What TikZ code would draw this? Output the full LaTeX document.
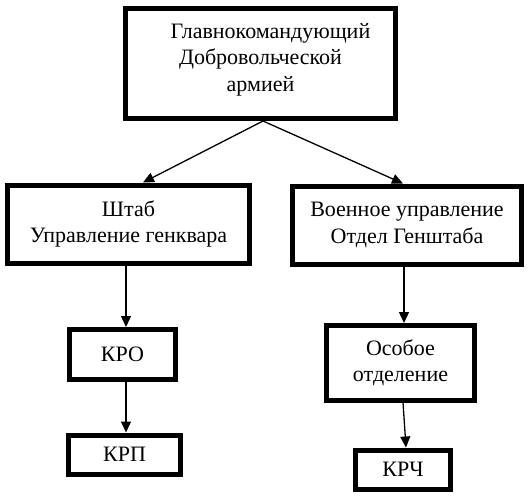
\documentclass[tikz,border=0pt]{standalone}
\usepackage{fontspec}
\newfontfamily\boxfont{Liberation Serif}
\usetikzlibrary{arrows.meta}

\begin{document}
\begin{tikzpicture}[x=1pt, y=-1pt,
    box/.style={draw, line width=5pt, align=center, inner sep=0pt,
        font={\fontsize{22}{26.5}\boxfont}},
    arr/.style={-{Triangle[length=11pt,width=10pt]}, line width=1.3pt}]
            \useasboundingbox (0,0) rectangle (530,500);

            \node[box, minimum width=270pt, minimum height=110pt] (glav) at (260.5, 63.5)
                {\hspace*{20pt}Главнокомандующий\\Добровольческой\\армией\\[-14pt]};

            \node[box, minimum width=242pt, minimum height=78pt] (stab) at (128.5, 224)
                {Штаб\\Управление генквара};
            \node[box, minimum width=229pt, minimum height=78pt] (voen) at (407, 225)
                {Военное управление\\Отдел Генштаба};

            \node[box, minimum width=106pt, minimum height=50pt] (kro) at (122.5, 354.5) {КРО};
            \node[box, minimum width=112pt, minimum height=39.5pt] (krp) at (124.5, 454.75) {КРП};

            \node[box, minimum width=148pt, minimum height=74.5pt] (osob) at (400.5, 362.75)
                {Особое\\отделение};
            \node[box, minimum width=95pt, minimum height=39pt] (krch) at (403, 469.5) {КРЧ};

            \draw[arr] ([xshift=2.5pt]glav.south) -- ([xshift=14.5pt]stab.north);
            \draw[arr] ([xshift=2.5pt]glav.south) -- ([xshift=-4pt]voen.north);

            \draw[arr] ([xshift=-2.5pt]stab.south) -- ([xshift=3.5pt]kro.north);
            \draw[arr] ([xshift=3.5pt]kro.south) -- ([xshift=1.5pt]krp.north);

            \draw[arr] ([xshift=-3pt]voen.south) -- ([xshift=3.5pt]osob.north);
            \draw[arr] ([xshift=2.5pt]osob.south) -- ([xshift=3pt]krch.north);
\end{tikzpicture}
\end{document}
